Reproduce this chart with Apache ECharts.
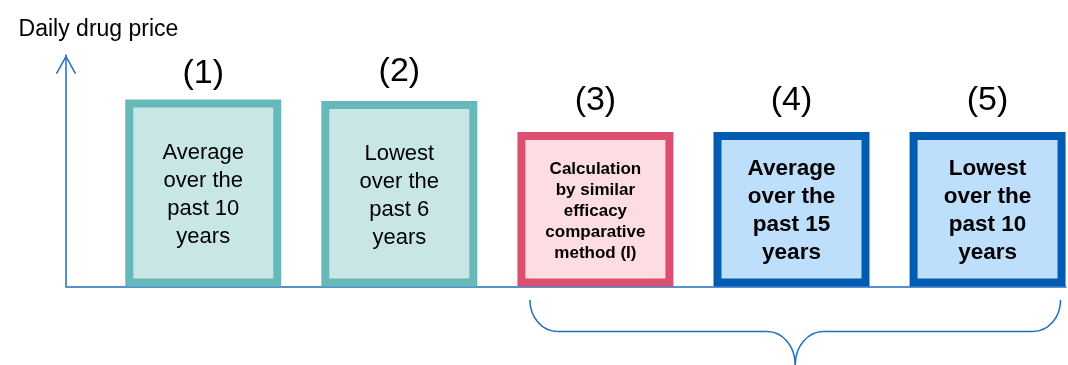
<!DOCTYPE html>
<html><head><meta charset="utf-8">
<script src="https://cdn.jsdelivr.net/npm/echarts@6/dist/echarts.min.js"></script>
<style>html,body{margin:0;padding:0;background:#fff}#c{width:1068px;height:365px}</style>
</head><body><div id="c"></div>
<script>
// ---- data ----
const categories = ['(1)', '(2)', '(3)', '(4)', '(5)'];
const positions = [1, 2, 3, 4, 5];
const prices = [80.8, 80.1, 66.7, 66.7, 66.7];
const descriptions = [
  'Average\nover the\npast 10\nyears',
  'Lowest\nover the\npast 6\nyears',
  'Calculation\nby similar\nefficacy\ncomparative\nmethod (I)',
  'Average\nover the\npast 15\nyears',
  'Lowest\nover the\npast 10\nyears'
];
const yAxisName = 'Daily drug price';

// ---- styling ----
const groups = ['teal', 'teal', 'pink', 'blue', 'blue'];
const palette = {
  teal: { border: '#66b9b8', fill: '#c8e6e6', size: 22, weight: 'normal', lh: 28 },
  pink: { border: '#dc4f6e', fill: '#fddde1', size: 17, weight: 'bold', lh: 21 },
  blue: { border: '#005cb0', fill: '#bedffc', size: 22.5, weight: 'bold', lh: 28 }
};
const topGap = [9, 12, 14, 14, 14];
const FONT = "'Liberation Sans', Arial, sans-serif";
const AXIS = '#1f6ec0';

const chart = echarts.init(document.getElementById('c'), null, { renderer: 'canvas' });

const boxData = positions.map((x, i) => {
  const p = palette[groups[i]];
  return {
    value: [x, prices[i]],
    itemStyle: { color: p.fill, borderColor: p.border, borderWidth: 8 },
    label: { formatter: descriptions[i], fontSize: p.size, fontWeight: p.weight, lineHeight: p.lh, offset: [0, 2] }
  };
});
const tagData = positions.map((x, i) => ({
  value: [x, prices[i]],
  label: { distance: topGap[i], formatter: categories[i] }
}));

chart.setOption({
  animation: false,
  backgroundColor: '#ffffff',
  grid: { left: 66, right: 2, top: 55, bottom: 78.5, containLabel: false },
  xAxis: {
    type: 'value', min: 0.3, max: 5.4,
    axisLine: { show: true, onZero: false, lineStyle: { color: AXIS, width: 1.5 } },
    axisTick: { show: false }, axisLabel: { show: false }, splitLine: { show: false }
  },
  yAxis: {
    type: 'value', min: 0, max: 100,
    name: yAxisName, nameLocation: 'end', nameGap: 14,
    nameTextStyle: { fontFamily: FONT, fontSize: 23, color: '#000', padding: [0, 0, 0, 65] },
    axisLine: {
      show: true, onZero: false,
      symbol: ['none', 'path://M0,18 L10,0 L20,18 L18.7,18.7 L10,2.9 L1.3,18.7 Z'],
      symbolSize: [21, 19], symbolOffset: [0, -9.5],
      lineStyle: { color: AXIS, width: 1.5 }
    },
    axisTick: { show: false }, axisLabel: { show: false }, splitLine: { show: false }
  },
  series: [
    {
      type: 'bar', barWidth: 156, barGap: '-100%', z: 1,
      data: boxData,
      label: { show: true, position: 'inside', color: '#000', fontFamily: FONT, align: 'center' }
    },
    {
      type: 'bar', barWidth: 156, barGap: '-100%', z: 2,
      itemStyle: { color: 'rgba(0,0,0,0)' },
      data: tagData,
      label: { show: true, position: 'top', color: '#000', fontFamily: FONT, fontSize: 34 }
    }
  ]
});

// brace under the last three bars, positioned from the axis scale
const a = chart.convertToPixel({ gridIndex: 0 }, [positions[2], 0]);
const b = chart.convertToPixel({ gridIndex: 0 }, [positions[4], 0]);
const L = a[0] - 65.5, R = b[0] + 73, M = (L + R) / 2, ay = a[1];
const yTop = ay + 13.5, yMid = ay + 45, yTip = ay + 78.5;
const st = { stroke: AXIS, lineWidth: 1.5, fill: null };
chart.setOption({
  graphic: [
    { type: 'bezierCurve', shape: { x1: L, y1: yTop, cpx1: L, cpy1: yTop + 17.5, cpx2: L + 12.3, cpy2: yMid, x2: L + 27.5, y2: yMid }, style: st },
    { type: 'line', shape: { x1: L + 27.5, y1: yMid, x2: M - 28, y2: yMid }, style: st },
    { type: 'bezierCurve', shape: { x1: M - 28, y1: yMid, cpx1: M - 12.5, cpy1: yMid, cpx2: M, cpy2: yMid + 15, x2: M, y2: yTip }, style: st },
    { type: 'bezierCurve', shape: { x1: R, y1: yTop, cpx1: R, cpy1: yTop + 17.5, cpx2: R - 12.3, cpy2: yMid, x2: R - 27.5, y2: yMid }, style: st },
    { type: 'line', shape: { x1: R - 27.5, y1: yMid, x2: M + 28, y2: yMid }, style: st },
    { type: 'bezierCurve', shape: { x1: M + 28, y1: yMid, cpx1: M + 12.5, cpy1: yMid, cpx2: M, cpy2: yMid + 15, x2: M, y2: yTip }, style: st }
  ]
});
</script>
</body></html>
